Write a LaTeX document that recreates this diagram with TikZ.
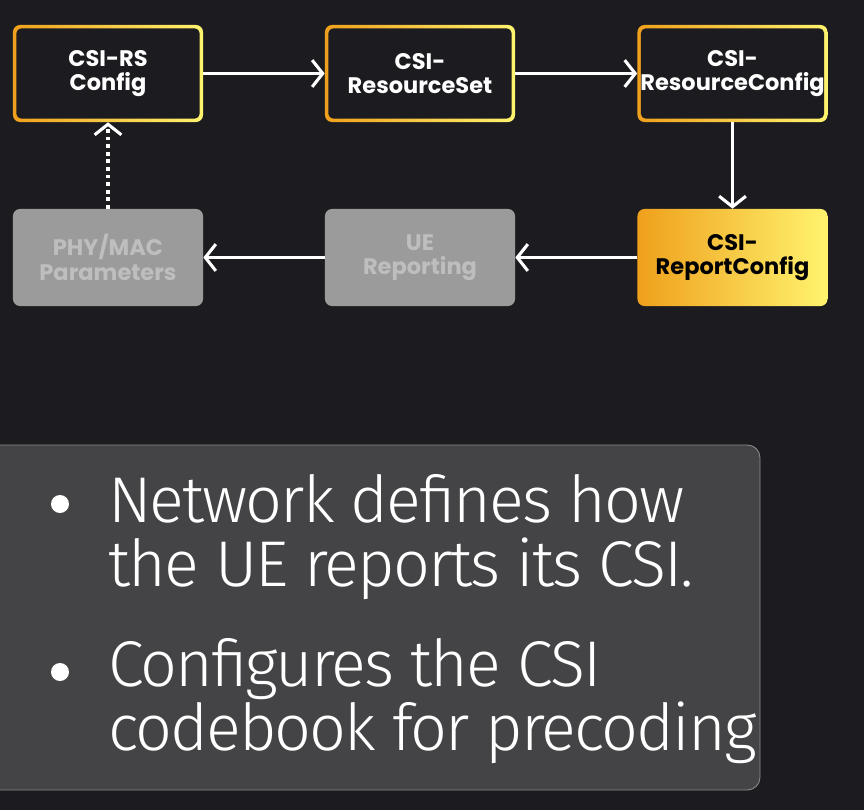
\documentclass[tikz,border=0pt]{standalone}
\usepackage{fontspec}
\setsansfont{Poppins}
\newfontfamily\bulletfont{Fira Sans Light}[LetterSpace=-3]
\usetikzlibrary{arrows.meta}
\definecolor{bgdark}{HTML}{1C1B20}
\definecolor{goldL}{HTML}{EFA01C}
\definecolor{goldR}{HTML}{FFF36E}
\definecolor{boxgray}{HTML}{9B9B9B}
\definecolor{textgray}{HTML}{BEBEBE}
\definecolor{panel}{HTML}{444446}
\definecolor{panelline}{HTML}{8C8C8E}

\begin{document}
\begin{tikzpicture}[x=0.025cm,y=-0.025cm]
  \tikzset{cfg/.style = {shape=rectangle,rounded corners=5pt,minimum width=4.75cm,minimum height=2.425cm,
      inner sep=1pt,align=center,font=\sffamily\bfseries\fontsize{16pt}{17.5pt}\selectfont}}
  \tikzset{outlined/.style = {cfg,left color=goldL,right color=goldR,text=white,
      path picture={\fill[bgdark,rounded corners=3.5pt] ([shift={(2.4pt,2.4pt)}]path picture bounding box.south west)
        rectangle ([shift={(-2.4pt,-2.4pt)}]path picture bounding box.north east);}}}
  \tikzset{filled/.style = {cfg,left color=goldL,right color=goldR,text=black}}
  \tikzset{muted/.style = {cfg,fill=boxgray,text=textgray}}
  \tikzset{edge/.style = {draw=white,line width=2.2pt,-{Straight Barb[length=7.5pt,width=19pt,line width=2.2pt]}}}
  \tikzset{lines/.style = {anchor=north west,align=left,text=white,inner sep=0pt,
      font=\bulletfont\fontsize{46pt}{45.5pt}\selectfont}}
  \tikzset{dot/.style = {shape=circle,fill=white,minimum size=0.45cm,inner sep=0pt}}

  % page
  \fill[bgdark] (0,0) rectangle (864,810);
  \useasboundingbox (0,0) rectangle (864,810);

  % top row
  \node[outlined] (rs) at (108,73.5) {CSI-RS\\Config};
  \node[outlined] (set) at (420,73.5) {CSI-\\ResourceSet};
  \node[outlined] (res) at (732.5,73.5) {CSI-\\ResourceConfig};

  % bottom row
  \node[muted] (phy) at (108,257.5) {PHY/MAC\\Parameters};
  \node[muted] (ue) at (420,257.5) {UE\\Reporting};
  \node[filled] (rep) at (732.5,257.5) {CSI-\\ReportConfig};

  \foreach \from/\to in {rs/set,set/res,res/rep,rep/ue,ue/phy}
    \path[edge] (\from) -- (\to);
  \path[edge,dash pattern=on 2.6pt off 2.8pt] (phy) -- (rs);

  % text panel
  \draw[fill=panel,draw=panelline,line width=0.6pt,rounded corners=9pt] (-20,445) rectangle (760,790);
  \node[dot] (d1) at (60,504) {};
  \node[dot] (d2) at (60,672) {};
  \node[lines] (b1) at (108,474) {Network defines how\\the UE reports its CSI.};
  \node[lines] (b2) at (108,638) {Configures the CSI\\codebook for precoding};
\end{tikzpicture}
\end{document}
